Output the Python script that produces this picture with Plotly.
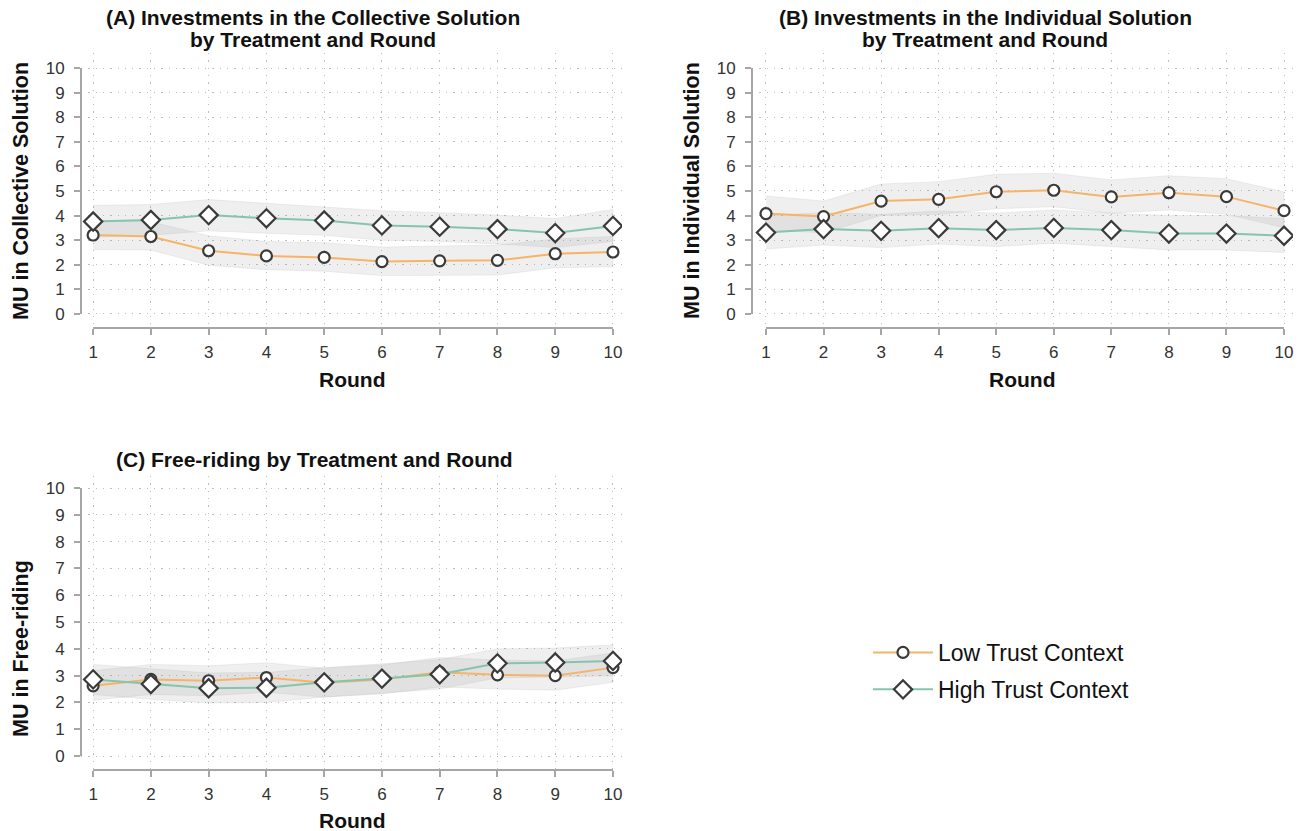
import plotly.graph_objects as go

W, H = 1308, 831

rounds = [1, 2, 3, 4, 5, 6, 7, 8, 9, 10]
y_ticks = [0, 1, 2, 3, 4, 5, 6, 7, 8, 9, 10]
legend_names = ["Low Trust Context", "High Trust Context"]

# (A) collective solution
a_low = [3.21, 3.15, 2.57, 2.36, 2.30, 2.13, 2.16, 2.18, 2.45, 2.52]
a_low_lo = [2.62, 2.60, 1.98, 1.80, 1.74, 1.56, 1.58, 1.58, 1.88, 1.92]
a_low_hi = [3.82, 3.75, 3.18, 2.95, 2.90, 2.72, 2.76, 2.80, 3.05, 3.15]
a_high = [3.76, 3.82, 4.02, 3.89, 3.80, 3.60, 3.55, 3.45, 3.29, 3.58]
a_high_lo = [3.12, 3.20, 3.38, 3.28, 3.20, 3.00, 2.95, 2.85, 2.70, 2.95]
a_high_hi = [4.42, 4.45, 4.65, 4.50, 4.38, 4.20, 4.12, 4.02, 3.88, 4.25]

# (B) individual solution
b_low = [4.08, 3.96, 4.59, 4.66, 4.97, 5.03, 4.76, 4.93, 4.77, 4.20]
b_low_lo = [3.42, 3.30, 4.00, 4.05, 4.28, 4.36, 4.10, 4.23, 4.05, 3.51]
b_low_hi = [4.80, 4.59, 5.28, 5.38, 5.68, 5.72, 5.45, 5.62, 5.50, 4.96]
b_high = [3.31, 3.45, 3.38, 3.49, 3.41, 3.50, 3.41, 3.27, 3.27, 3.18]
b_high_lo = [2.64, 2.80, 2.70, 2.84, 2.74, 2.88, 2.74, 2.60, 2.60, 2.50]
b_high_hi = [4.00, 4.12, 4.05, 4.19, 4.10, 4.23, 4.10, 4.00, 4.00, 3.88]

# (C) free-riding
c_low = [2.62, 2.86, 2.81, 2.93, 2.74, 2.86, 3.13, 3.03, 3.00, 3.30]
c_low_lo = [2.08, 2.30, 2.25, 2.38, 2.20, 2.32, 2.58, 2.50, 2.46, 2.75]
c_low_hi = [3.18, 3.42, 3.37, 3.48, 3.28, 3.40, 3.68, 3.58, 3.55, 3.85]
c_high = [2.86, 2.69, 2.53, 2.55, 2.75, 2.89, 3.05, 3.46, 3.49, 3.55]
c_high_lo = [2.30, 2.12, 1.98, 2.00, 2.20, 2.34, 2.50, 2.92, 2.95, 3.00]
c_high_hi = [3.42, 3.25, 3.10, 3.12, 3.30, 3.44, 3.60, 4.00, 4.03, 4.15]

title_lines = [["(A) Investments in the Collective Solution", "by Treatment and Round"],
               ["(B) Investments in the Individual Solution", "by Treatment and Round"],
               ["(C) Free-riding by Treatment and Round"]]
y_titles = ["MU in Collective Solution", "MU in Individual Solution", "MU in Free-riding"]
x_title = "Round"

ORANGE = "#f5b468"
GREEN = "#86c4ab"
MK_LINE = "#3a3a3a"
BAND = "rgba(150,150,150,0.15)"
AXC = "#a6a6a6"
GRID = "#bdbdbd"
FONT = "Liberation Sans, Arial, sans-serif"

panels = [
    dict(low=a_low, low_lo=a_low_lo, low_hi=a_low_hi, high=a_high, high_lo=a_high_lo, high_hi=a_high_hi,
         xd=[81, 622], yd=[53, 328], xr=[0.79, 10.156], yr=[-0.57, 10.61]),
    dict(low=b_low, low_lo=b_low_lo, low_hi=b_low_hi, high=b_high, high_lo=b_high_lo, high_hi=b_high_hi,
         xd=[752, 1293], yd=[53, 328], xr=[0.757, 10.156], yr=[-0.57, 10.61]),
    dict(low=c_low, low_lo=c_low_lo, low_hi=c_low_hi, high=c_high, high_lo=c_high_lo, high_hi=c_high_hi,
         xd=[81, 622], yd=[476, 770], xr=[0.79, 10.156], yr=[-0.52, 10.45]),
]

fig = go.Figure()
layout = {}
shapes = []
for i, p in enumerate(panels):
    sfx = "" if i == 0 else str(i + 1)
    xa, ya = "x" + sfx, "y" + sfx
    # CI bands
    for lo, hi in [(p["low_lo"], p["low_hi"]), (p["high_lo"], p["high_hi"])]:
        fig.add_trace(go.Scatter(x=rounds + rounds[::-1], y=hi + lo[::-1], fill="toself",
                                 fillcolor=BAND, line=dict(width=0.6, color="rgba(170,170,170,0.3)"),
                                 mode="lines", hoverinfo="skip", showlegend=False, xaxis=xa, yaxis=ya))
    # lines + markers
    fig.add_trace(go.Scatter(x=rounds, y=p["low"], mode="lines+markers", name=legend_names[0],
                             line=dict(color=ORANGE, width=2),
                             marker=dict(symbol="circle", size=11, color="white",
                                         line=dict(color=MK_LINE, width=2.2)),
                             showlegend=(i == 0), legendgroup="low", xaxis=xa, yaxis=ya))
    fig.add_trace(go.Scatter(x=rounds, y=p["high"], mode="lines+markers", name=legend_names[1],
                             line=dict(color=GREEN, width=2),
                             marker=dict(symbol="diamond", size=14, color="white",
                                         line=dict(color=MK_LINE, width=2.2)),
                             showlegend=(i == 0), legendgroup="high", xaxis=xa, yaxis=ya))
    xdom = [p["xd"][0] / W, p["xd"][1] / W]
    ydom = [1 - p["yd"][1] / H, 1 - p["yd"][0] / H]
    common = dict(ticks="outside", ticklen=6, tickcolor=AXC, tickwidth=1.5,
                  showline=False, zeroline=False, showgrid=True,
                  gridcolor=GRID, griddash="1.3px,6px", gridwidth=1.3,
                  tickfont=dict(size=17, color="#333", family=FONT))
    layout["xaxis" + sfx] = dict(domain=xdom, range=p["xr"], anchor=ya, tickvals=rounds,
                                 ticklabelstandoff=3, **common)
    layout["yaxis" + sfx] = dict(domain=ydom, range=p["yr"], anchor=xa, tickvals=y_ticks,
                                 ticklabelstandoff=6, **common)
    # axis lines spanning first..last tick
    shapes.append(dict(type="line", xref=xa + " domain", yref=ya, x0=0, x1=0,
                       y0=y_ticks[0], y1=y_ticks[-1], line=dict(color=AXC, width=2)))
    shapes.append(dict(type="line", xref=xa, yref=ya + " domain", x0=rounds[0], x1=rounds[-1],
                       y0=0, y1=0, line=dict(color=AXC, width=2)))

ann = []
title_pos = [(313, [18, 40]), (985, [18, 40]), (314, [460])]
for (tx, tys), lines in zip(title_pos, title_lines):
    for ty, t in zip(tys, lines):
        ann.append(dict(text="<b>" + t + "</b>", x=tx / W, y=1 - ty / H, xref="paper", yref="paper",
                        showarrow=False, xanchor="center", yanchor="middle",
                        font=dict(size=21, color="#111", family=FONT)))
ytitle_pos = [(21, 191), (692, 191), (21, 649)]
for (tx, ty), t in zip(ytitle_pos, y_titles):
    ann.append(dict(text="<b>" + t + "</b>", x=tx / W, y=1 - ty / H, xref="paper", yref="paper",
                    showarrow=False, textangle=-90, xanchor="center", yanchor="middle",
                    font=dict(size=21.5, color="#111", family=FONT)))
xtitle_pos = [(352, 379), (1022, 379), (352, 820)]
for tx, ty in xtitle_pos:
    ann.append(dict(text="<b>" + x_title + "</b>", x=tx / W, y=1 - ty / H, xref="paper", yref="paper",
                    showarrow=False, xanchor="center", yanchor="middle",
                    font=dict(size=21, color="#111", family=FONT)))

fig.update_layout(
    width=W, height=H, margin=dict(l=0, r=0, t=0, b=0),
    paper_bgcolor="white", plot_bgcolor="white",
    font=dict(family=FONT, color="#222"),
    annotations=ann, shapes=shapes,
    legend=dict(x=868 / W, y=1 - 671 / H, xanchor="left", yanchor="middle",
                font=dict(size=23, color="#111", family=FONT), itemwidth=60,
                traceorder="grouped", tracegroupgap=4, bgcolor="rgba(0,0,0,0)"),
    **layout,
)

fig.write_html("out.html")
